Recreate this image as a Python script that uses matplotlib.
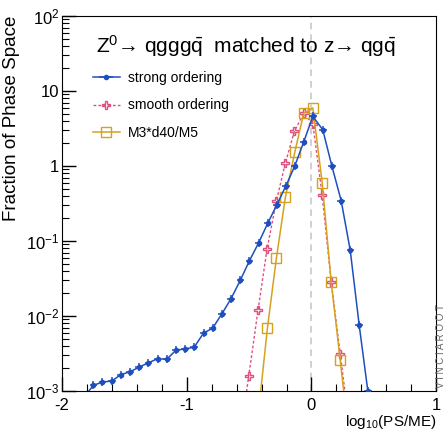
import matplotlib
matplotlib.use("Agg")
import matplotlib.pyplot as plt
from matplotlib.ticker import FixedLocator, NullFormatter, LogLocator

plt.rcParams['font.family'] = ['Liberation Sans', 'DejaVu Sans']
plt.rcParams['mathtext.fontset'] = 'custom'
plt.rcParams['mathtext.rm'] = 'Liberation Sans'
plt.rcParams['mathtext.it'] = 'Liberation Sans:italic'

# strong ordering
x_strong = [-1.82, -1.748, -1.676, -1.601, -1.529, -1.454, -1.382, -1.307, -1.234, -1.159,
            -1.087, -1.012, -0.940, -0.865, -0.793, -0.718, -0.645, -0.570, -0.498,
            -0.423, -0.351, -0.276, -0.204, -0.134, -0.062, 0.011, 0.091, 0.163,
            0.238, 0.311, 0.383, 0.452]
y_strong = [8.5e-4, 1.19e-3, 1.32e-3, 1.36e-3, 1.65e-3, 1.81e-3, 2.08e-3, 2.38e-3, 2.69e-3,
            2.66e-3, 3.5e-3, 3.65e-3, 3.84e-3, 5.94e-3, 6.86e-3, 0.0107, 0.0170,
            0.0301, 0.0543, 0.095, 0.172, 0.307, 0.548, 1.0, 2.10, 4.6, 3.04,
            1.01, 0.347, 0.075, 7.5e-3, 1.0e-3]

# smooth ordering
x_smooth = [-0.575, -0.503, -0.428, -0.356, -0.281, -0.209, -0.137, -0.062, 0.011,
            0.086, 0.158, 0.230, 0.303]
y_smooth = [2.2e-4, 1.58e-3, 0.0121, 0.078, 0.343, 1.10, 2.91, 5.05, 3.65,
            0.408, 0.0288, 3.16e-3, 3.5e-4]

# M3*d40/M5
x_m3 = [-0.426, -0.353, -0.281, -0.209, -0.134, -0.062, 0.011, 0.086, 0.158, 0.230, 0.303]
y_m3 = [5e-4, 6.93e-3, 0.0594, 0.384, 1.52, 5.05, 5.95, 0.601, 0.0288, 2.63e-3, 2.2e-4]

blue = '#1f4fbf'
pink = '#e0507e'
gold = '#d6a21e'

fig = plt.figure(figsize=(4.46, 4.34), dpi=100)
ax = fig.add_axes([0.139, 0.099, 0.839, 0.864])

ax.axvline(0, color='#c8c8c8', lw=1.2, ls=(0, (4, 3)), zorder=0)

ax.plot(x_m3, y_m3, color=gold, lw=1.1, marker='s', ms=6.5, mfc='none', mec=gold,
        mew=1.0, label='M3*d40/M5', zorder=3)
ax.plot(x_smooth, y_smooth, color=pink, lw=1.0, ls=(0, (2, 1.5)), marker='P', ms=6,
        mfc='none', mec=pink, mew=1.0, label='smooth ordering', zorder=2)
ax.errorbar(x_strong, y_strong, xerr=0.03, color=blue, lw=1.1, marker='o', ms=3,
            elinewidth=1.1, capsize=0, label='strong ordering', zorder=4)
ax.plot(x_strong, y_strong, ls='none', marker='|', ms=6, color=blue, mew=1.1, zorder=4)

ax.set_xlim(-2, 1)
ax.set_yscale('log')
ax.set_ylim(1e-3, 1e2)

ax.xaxis.set_major_locator(FixedLocator([-2, -1, 0, 1]))
ax.xaxis.set_minor_locator(FixedLocator([-1.8, -1.6, -1.4, -1.2, -0.8, -0.6, -0.4, -0.2,
                                         0.2, 0.4, 0.6, 0.8]))
ax.set_xticklabels(['-2', '-1', '0', '1'])
ax.yaxis.set_major_locator(FixedLocator([1e-3, 1e-2, 1e-1, 1, 10, 100]))
ax.set_yticklabels(['$10^{-3}$', '$10^{-2}$', '$10^{-1}$', '1', '10', '$10^{2}$'])
ax.yaxis.set_minor_locator(LogLocator(base=10, subs=range(2, 10)))
ax.yaxis.set_minor_formatter(NullFormatter())

ax.tick_params(which='both', direction='in', top=False, right=False, labelsize=12)
ax.tick_params(axis='x', pad=5)
ax.tick_params(axis='y', pad=2)
ax.tick_params(which='major', length=10, width=1)
ax.tick_params(which='minor', length=5, width=0.8)

ax.set_ylabel('Fraction of Phase Space', fontsize=13.5, loc='top', labelpad=4)
ax.set_xlabel(r'log$_{10}$(PS/ME)', fontsize=11, loc='right', labelpad=0)

ax.text(0.09, 0.92, r'Z$^0$→ qggg$\bar{\mathrm{q}}$  matched to z→ qg$\bar{\mathrm{q}}$',
        transform=ax.transAxes, fontsize=15, va='center', ha='left')

h, l = ax.get_legend_handles_labels()
order = [2, 1, 0]
ax.legend([h[i] for i in order], [l[i] for i in order], loc='upper left',
          bbox_to_anchor=(0.05, 0.886), frameon=False, fontsize=10, handlelength=1.9,
          labelspacing=0.95, handletextpad=0.6)

fig.text(0.988, 0.105, 'V I N C I A R O O T', rotation=90, fontsize=7, color='#666666',
         ha='center', va='bottom')

fig.savefig('out.png', dpi=100)
